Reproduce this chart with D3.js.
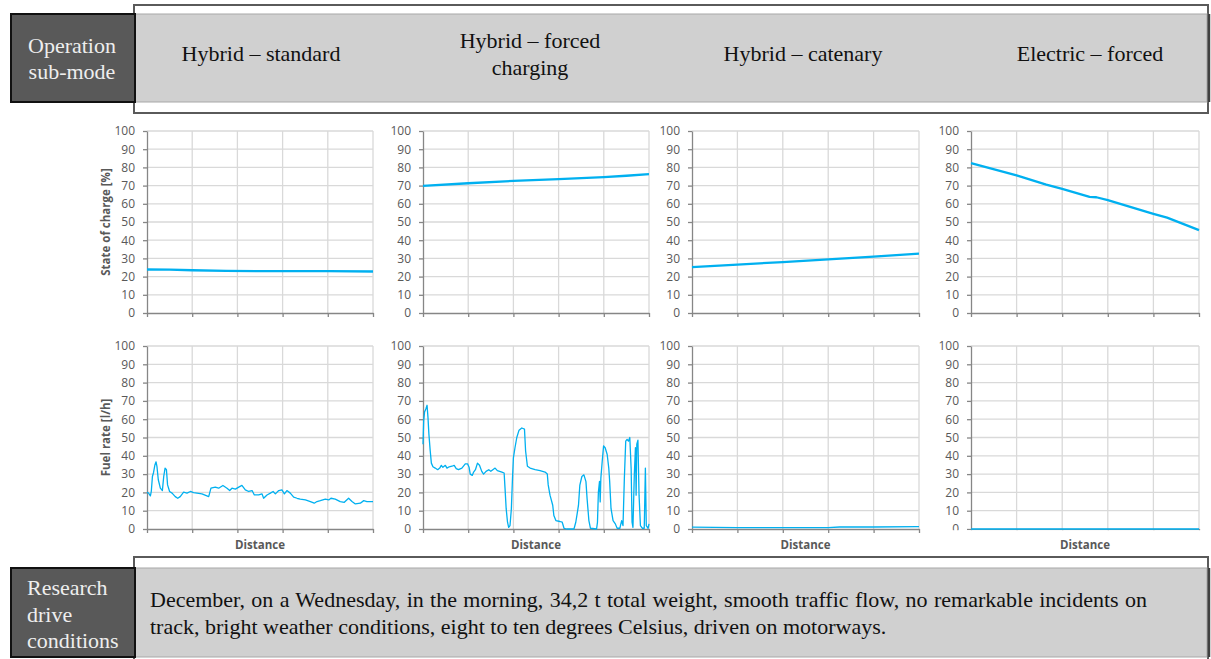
<!DOCTYPE html>
<html>
<head>
<meta charset="utf-8">
<script src="https://cdn.jsdelivr.net/npm/d3@7"></script>
<style>
  body { margin: 0; background: #fff; }
  svg { display: block; }
</style>
</head>
<body>
<svg id="chart" width="1211" height="659"></svg>
<script>
// header / footer texts
const modes = [["Hybrid – standard"], ["Hybrid – forced", "charging"], ["Hybrid – catenary"], ["Electric – forced"]];
const headerLabel = ["Operation", "sub-mode"];
const footerLabel = ["Research", "drive", "conditions"];
const footerLines = [
  "December, on a Wednesday, in the morning, 34,2 t total weight, smooth traffic flow, no remarkable incidents on",
  "track, bright weather conditions, eight to ten degrees Celsius, driven on motorways."
];

const yTicks = [0, 10, 20, 30, 40, 50, 60, 70, 80, 90, 100];
const xTicks = [0, 20, 40, 60, 80, 100];

// state of charge [%] against distance (0-100 % of route)
const socStandard = [[0, 23.9], [10, 23.8], [20, 23.5], [35, 23.1], [60, 23], [80, 23], [100, 22.8]];
const socForced = [[0, 69.8], [20, 71.3], [40, 72.6], [60, 73.6], [80, 74.7], [90, 75.4], [100, 76.3]];
const socCatenary = [[0, 25.2], [20, 26.6], [40, 28.0], [60, 29.5], [80, 31.0], [100, 32.6]];
const socElectric = [[0, 82.4], [20, 75.6], [33, 70.5], [40, 68.2], [52, 63.8], [55, 63.6], [60, 62], [80, 54.5], [86, 52.4], [100, 45.5]];

// fuel rate [l/h] against distance
const fuelStandard = [
  [0, 20.1], [0.7, 19.6], [1.5, 18.1], [1.9, 20.5], [2.4, 28.7], [2.9, 30.9], [3.5, 35], [4.0, 36.7],
  [4.4, 34.2], [5.0, 26.9], [5.9, 22.3], [6.8, 21], [7.4, 28.7], [8.0, 33.3], [8.6, 32.4], [9.1, 24.1],
  [10.0, 20.5], [11.1, 19.6], [12.5, 17.7], [13.6, 16.8], [14.7, 17.7], [16.2, 20.1], [17.7, 19.6],
  [19.2, 20.5], [20.6, 19.9], [22.1, 19.6], [24.3, 19.2], [26.5, 18.1], [27.3, 17.7], [28.3, 22.3],
  [30.2, 22.9], [31.7, 22.3], [33.6, 23.8], [35.4, 22.3], [36.6, 21], [37.6, 22.3], [39.1, 21.8],
  [40.6, 22.9], [42.0, 23.8], [43.5, 21.4], [45.0, 20.5], [46.5, 21], [47.5, 18.6], [49.4, 18.6],
  [50.9, 19.2], [51.6, 16.8], [53.1, 18.6], [54.6, 19.6], [55.8, 20.5], [56.8, 19.2], [58.3, 21],
  [59.7, 21.4], [60.8, 19.2], [61.9, 21], [63.4, 19.6], [64.9, 17.4], [66.4, 16.8], [67.8, 16.3],
  [70.1, 15.9], [72.3, 15], [74.0, 14.1], [75.2, 15], [76.7, 15.5], [78.9, 16.3], [80.4, 15.9],
  [81.4, 16.8], [83.3, 16.3], [85.5, 15], [87.3, 14.6], [89.2, 16.8], [90.7, 15], [92.2, 13.7],
  [94.4, 14.1], [95.9, 15.5], [97.3, 15], [100, 15]
];
const fuelForced = [
  [0, 46.3], [0.3, 59], [0.7, 64], [1.3, 65.7], [1.8, 67.6], [2.2, 61], [2.6, 52], [3.2, 42.6],
  [3.7, 36], [4.4, 34], [5.4, 33.3], [6.5, 32.4], [7.4, 33.3], [8.1, 34.8], [8.8, 33.7], [9.9, 34.8],
  [10.6, 33.3], [11.6, 34], [12.8, 34.3], [13.8, 34.8], [14.7, 33], [15.7, 32.4], [17.2, 33.3],
  [18.7, 35.6], [19.7, 35.6], [20.4, 33.7], [20.9, 30], [21.8, 29.3], [22.4, 31.1], [23.2, 32.4],
  [24.1, 36], [25, 34.8], [26, 31.5], [26.8, 30], [27.9, 31.5], [29.1, 32.4], [30, 31.5], [30.9, 32.4],
  [31.9, 33.3], [32.9, 31.9], [34.9, 31.1], [35.9, 30.6], [36.3, 22.2], [36.8, 11.1], [37.4, 3.7],
  [37.9, 0.9], [38.5, 1.9], [39.1, 11.1], [39.6, 27.8], [40, 38.9], [40.7, 44.4], [41.5, 50],
  [42.5, 54], [43.7, 55.2], [44.9, 54.6], [45.4, 42.6], [46.2, 34.3], [47.4, 33.3], [49.6, 32.4],
  [51.8, 31.9], [54, 31.1], [55, 30], [55.4, 24.1], [56.2, 18.5], [57.4, 13], [57.9, 7.4], [58.8, 4.6],
  [60.6, 4.1], [61.6, 3.7], [62.4, 0.4], [63.5, 0], [66.8, 0], [67.6, 3.7], [68.2, 8.3], [68.8, 13],
  [69.4, 24], [70.3, 28.7], [71.2, 29.6], [72.1, 25.9], [72.6, 16.7], [73.4, 4.6], [74.1, 0.4],
  [76.8, 0], [77.2, 3.7], [77.6, 20], [78.1, 26], [78.4, 14.8], [78.7, 27.8], [79.3, 37], [79.9, 45.4],
  [80.6, 44.4], [81.5, 40.7], [82.2, 33.3], [82.6, 25.9], [83.2, 11.1], [84.1, 4.6], [85.1, 2.8],
  [85.9, 0.4], [87.1, 0.4], [87.9, 4.6], [88.5, 1.9], [89.1, 27.8], [89.7, 48], [90.3, 49], [90.9, 48],
  [91.5, 50], [92.1, 33], [92.5, 3.7], [92.9, 0.9], [93.5, 29.6], [94, 44.4], [94.3, 18.5], [94.6, 46.3],
  [95.1, 48.5], [95.6, 18.5], [96.2, 1.9], [97.1, 0.4], [97.9, 0.4], [98.4, 33.3], [98.8, 1.9],
  [99.6, 0.4], [100, 2.8]
];
const fuelCatenary = [[0, 1], [20, 0.8], [40, 0.7], [60, 0.8], [65, 1.1], [80, 1.1], [100, 1.3]];
const fuelElectric = [[0, 0], [50, 0], [100, 0]];

const socSeries = [socStandard, socForced, socCatenary, socElectric];
const fuelSeries = [fuelStandard, fuelForced, fuelCatenary, fuelElectric];

// layout
const colX = [[147, 373], [423, 649], [692, 919], [971, 1199]];
const rowY = [[131, 313], [346, 529]];
const headerX = [261, 530, 803, 1090];
const blue = "#00b0f0";
const grey = "#595959";
const serif = "'Liberation Serif', 'Times New Roman', serif";
const sans = "'Open Sans', sans-serif";

const svg = d3.select("#chart");

function band(y0, y1, yBand0, yBand1, h) {
  svg.append("rect").attr("x", 134).attr("y", y0).attr("width", 1074).attr("height", h)
    .attr("fill", "#fff").attr("stroke", "#5a5a5a").attr("stroke-width", 2);
  svg.append("rect").attr("x", 135).attr("y", yBand0).attr("width", 1072).attr("height", yBand1 - yBand0)
    .attr("fill", "#d0d0d0").attr("stroke", "#a8a8a8").attr("stroke-width", 1);
  svg.append("line").attr("x1", 1209).attr("x2", 1209).attr("y1", yBand0).attr("y2", yBand1)
    .attr("stroke", "#404040").attr("stroke-width", 2.5);
  svg.append("rect").attr("x", 11).attr("y", yBand0).attr("width", 124).attr("height", yBand1 - yBand0)
    .attr("fill", "#595959").attr("stroke", "#111").attr("stroke-width", 2);
}

// header
band(5, 113, 14, 102, 108);
headerLabel.forEach((t, i) => {
  svg.append("text").attr("x", 72).attr("y", 53 + i * 26).attr("text-anchor", "middle")
    .style("font", `22px ${serif}`).attr("fill", "#eeeeee").text(t);
});
modes.forEach((lines, c) => {
  const base = lines.length === 1 ? 61 : 48;
  lines.forEach((t, i) => {
    svg.append("text").attr("x", headerX[c]).attr("y", base + i * 27).attr("text-anchor", "middle")
      .style("font", `22px ${serif}`).attr("fill", "#111").text(t);
  });
});

// footer
band(557, 700, 568, 657, 150);
footerLabel.forEach((t, i) => {
  svg.append("text").attr("x", 27).attr("y", 595 + i * 26.5)
    .style("font", `22px ${serif}`).attr("fill", "#eeeeee").text(t);
});
footerLines.forEach((t, i) => {
  const txt = svg.append("text").attr("x", 150).attr("y", 607 + i * 26.5)
    .style("font", `22px ${serif}`).attr("fill", "#111").text(t);
  if (i === 0) {
    // justified first line
    const w = txt.node().getComputedTextLength();
    const spaces = t.split(" ").length - 1;
    txt.attr("word-spacing", Math.max(0, (997 - w) / spaces));
  }
});

// panels
[socSeries, fuelSeries].forEach((seriesRow, r) => {
  const [yt, yb] = rowY[r];
  seriesRow.forEach((data, c) => {
    const [x0, x1] = colX[c];
    const x = d3.scaleLinear().domain([0, 100]).range([x0, x1]);
    const y = d3.scaleLinear().domain([0, 100]).range([yb, yt]);
    const g = svg.append("g");

    g.append("g").selectAll("line").data(yTicks.filter(v => v > 0)).join("line")
      .attr("x1", x0).attr("x2", x1).attr("y1", d => y(d)).attr("y2", d => y(d))
      .attr("stroke", "#d9d9d9").attr("stroke-width", 1.3);
    g.append("g").selectAll("line").data(xTicks.filter(v => v > 0)).join("line")
      .attr("x1", d => x(d)).attr("x2", d => x(d)).attr("y1", yt).attr("y2", yb)
      .attr("stroke", "#d9d9d9").attr("stroke-width", 1.3);

    const ya = g.append("g").attr("transform", `translate(${x0},0)`)
      .call(d3.axisLeft(y).tickValues(yTicks).tickSize(4).tickSizeOuter(0).tickPadding(8));
    const xa = g.append("g").attr("transform", `translate(0,${yb})`)
      .call(d3.axisBottom(x).tickValues(xTicks).tickSize(4).tickSizeOuter(0).tickFormat(""));
    [ya, xa].forEach(a => {
      a.select(".domain").attr("stroke", "#868686").attr("stroke-width", 1.3);
      a.selectAll(".tick line").attr("stroke", "#868686").attr("stroke-width", 1.3);
      a.selectAll("text").style("font", `12px ${sans}`).attr("fill", grey);
    });

    if (r === 1 && c === 3) {
      // bottom of this panel is cut off in the source picture
      g.append("rect").attr("x", x0 - 45).attr("y", yb + 1.2).attr("width", x1 - x0 + 55).attr("height", 9)
        .attr("fill", "#fff");
    }

    g.append("path").datum(data)
      .attr("d", d3.line().x(d => x(d[0])).y(d => y(d[1])))
      .attr("fill", "none").attr("stroke", blue)
      .attr("stroke-width", r === 0 ? 2.3 : 1.3).attr("stroke-linejoin", "round");

    if (r === 1) {
      g.append("text").attr("x", (x0 + x1) / 2).attr("y", 549).attr("text-anchor", "middle")
        .style("font", `bold 11.5px ${sans}`).attr("fill", grey).text("Distance");
    }
  });
});

// y axis titles (first column only)
["State of charge [%]", "Fuel rate [l/h]"].forEach((t, r) => {
  const cy = (rowY[r][0] + rowY[r][1]) / 2;
  svg.append("text").attr("transform", `translate(110,${cy}) rotate(-90)`).attr("text-anchor", "middle")
    .style("font", `bold 11.5px ${sans}`).attr("fill", grey).text(t);
});
</script>
</body>
</html>
